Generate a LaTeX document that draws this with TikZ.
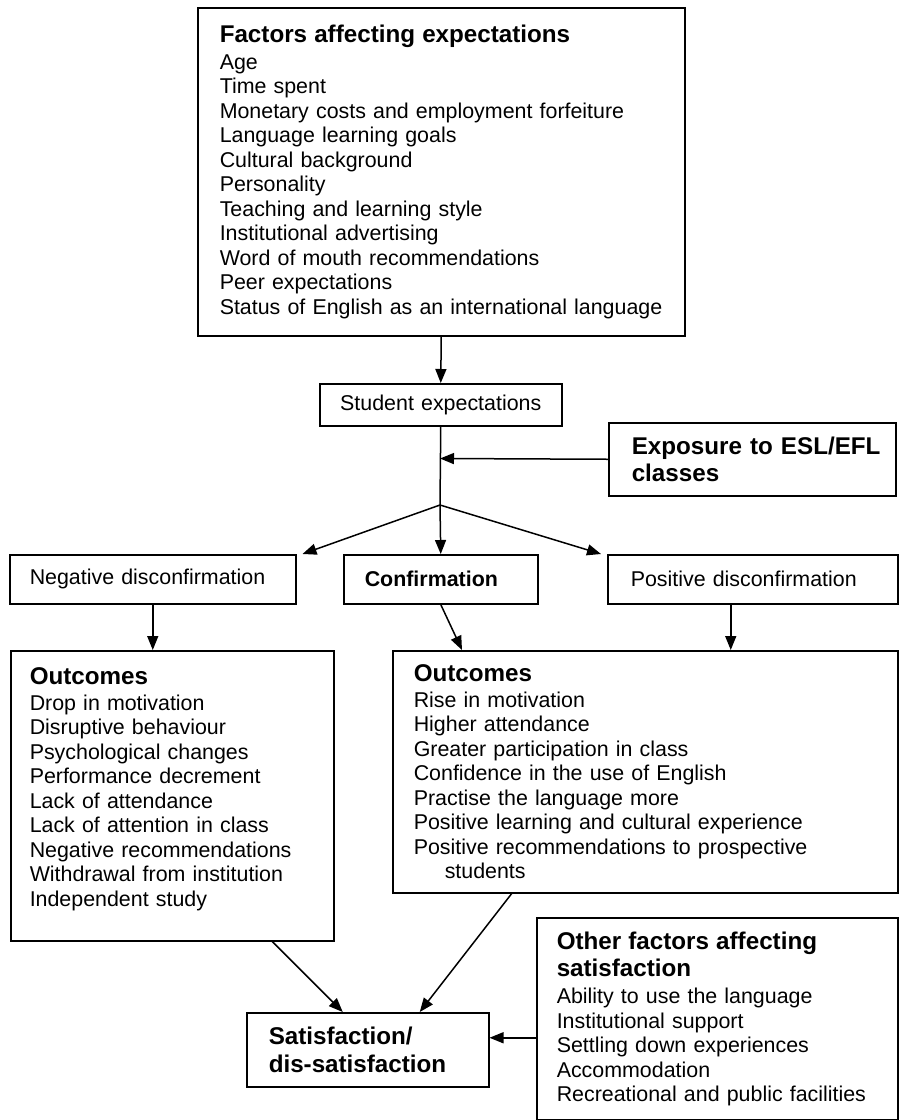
\documentclass[tikz,border=0pt]{standalone}
\usepackage{fontspec}
\setmainfont{Liberation Sans}
\usetikzlibrary{arrows.meta}
\newcommand{\myLS}[1]{\leftskip=#1pt\relax}
\newcommand{\HdF}{\fontsize{24.2}{24.5}\selectfont\bfseries}
\begin{document}
\begin{tikzpicture}[x=1pt,y=-1pt,
  box/.style={draw, line width=1.5pt, inner xsep=6pt, inner ysep=0pt, anchor=north west, align=left,
              font=\fontsize{21.4}{24.5}\selectfont},
  bbox/.style={box, font=\fontsize{24.2}{26.5}\selectfont\bfseries},
  arr/.style={line width=1.5pt, -{Triangle[length=14pt,width=11pt]}},
  ln/.style={line width=1.5pt}]
\fill[white] (0,0) rectangle (899,1120);
\useasboundingbox (0,0) rectangle (899,1120);

% top factors box
\node[box, minimum width=487pt, minimum height=328pt, text width=475pt] (fac) at (197,7)
 {\myLS{16}{\HdF Factors affecting expectations}\\[2pt]
  Age\\ Time spent\\ Monetary costs and employment forfeiture\\ Language learning goals\\
  Cultural background\\ Personality\\ Teaching and learning style\\ Institutional advertising\\
  Word of mouth recommendations\\ Peer expectations\\ Status of English as an international language\par};

% student expectations
\node[box, align=center, minimum width=242pt, minimum height=42pt, text width=230pt] (se) at (319,383)
 {Student expectations};

% exposure
\node[bbox, minimum width=287pt, minimum height=73pt, text width=275pt] (exp) at (608,422)
 {\myLS{17}Exposure to ESL/EFL\\ classes\par};

% three outcome classes
\node[box, minimum width=286pt, minimum height=49pt, text width=274pt] (neg) at (9,554)
 {\myLS{14}Negative disconfirmation\par};
\node[box, minimum width=194pt, minimum height=49pt, text width=182pt] (conf) at (343,554)
 {\myLS{15}\bfseries Confirmation\par};
\node[box, minimum width=290pt, minimum height=49pt, text width=278pt] (pos) at (607,554)
 {\myLS{17}Positive disconfirmation\par};

% outcome boxes
\node[box, minimum width=323pt, minimum height=290pt, text width=311pt] (outl) at (10,650)
 {\myLS{13}{\HdF Outcomes}\\[1.5pt]
  Drop in motivation\\ Disruptive behaviour\\ Psychological changes\\ Performance decrement\\
  Lack of attendance\\ Lack of attention in class\\ Negative recommendations\\
  Withdrawal from institution\\ Independent study\\[-7pt]\mbox{}\par};
\node[box, minimum width=505pt, minimum height=242pt, text width=493pt] (outr) at (392,650)
 {\myLS{15}{\HdF Outcomes}\\[1.5pt]
  Rise in motivation\\ Higher attendance\\ Greater participation in class\\
  Confidence in the use of English\\ Practise the language more\\
  Positive learning and cultural experience\\ Positive recommendations to prospective\\
  \hspace*{31pt}students\par};

% satisfaction
\node[box, font=\fontsize{24.2}{28}\selectfont\bfseries, minimum width=242pt, minimum height=74pt, text width=230pt] (sat) at (246,1012)
 {\myLS{16}Satisfaction/\\ dis-satisfaction\par};

% other factors
\node[box, minimum width=361pt, minimum height=202pt, text width=349pt] (oth) at (536,917)
 {\myLS{14}{\HdF Other factors affecting}\\[3pt]{\HdF satisfaction}\\[2.5pt]
  Ability to use the language\\ Institutional support\\ Settling down experiences\\
  Accommodation\\ Recreational and public facilities\par};

% connectors
\coordinate (br) at (440,505);
\coordinate (jn) at (440,458.5);
\draw[arr] (fac.south) -- (se.north);
\draw[ln] (se.south) -- (br);
\draw[arr] (exp.west) -- (jn);
\draw[arr] (br) -- ([xshift=6pt]neg.north east);
\draw[arr] (br) -- (conf.north);
\draw[arr] (br) -- ([xshift=-6pt]pos.north west);
\draw[arr] (neg.south) -- (neg.south |- outl.north);
\draw[arr] (conf.south) -- ([xshift=70pt]outr.north west);
\coordinate (ps) at ([xshift=-22pt]pos.south);
\draw[arr] (ps) -- (ps |- outr.north);
\draw[arr] ([xshift=100pt]outl.south) -- ([xshift=-25pt]sat.north);
\draw[arr] ([xshift=-133.5pt]outr.south) -- ([xshift=52pt]sat.north);
\coordinate (se2) at ([yshift=12pt]sat.east);
\draw[arr] (se2 -| oth.west) -- (se2);
\end{tikzpicture}
\end{document}
